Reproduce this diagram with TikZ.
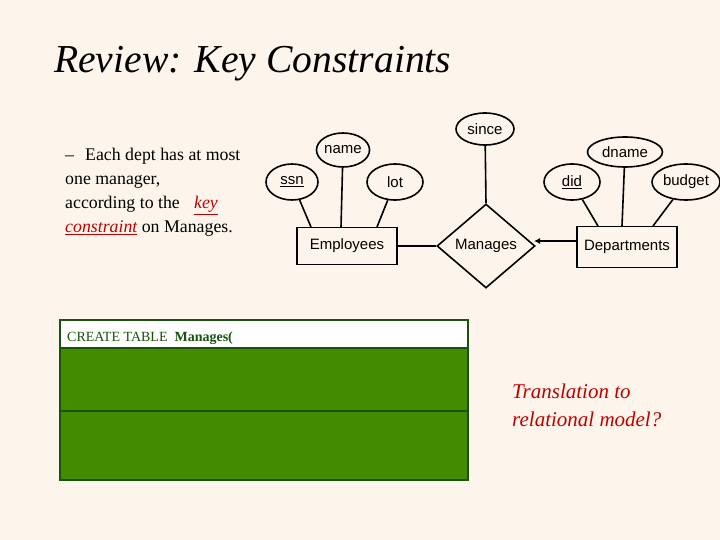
\documentclass[tikz,border=0pt]{standalone}
\usepackage{fontspec}
\setmainfont{Liberation Serif}
\setsansfont{Liberation Sans}
\usetikzlibrary{shapes.geometric,arrows.meta}
\definecolor{bg}{HTML}{FDF5EB}
\definecolor{sqlgreen}{HTML}{438C00}
\definecolor{sqldark}{HTML}{1A5010}
\definecolor{redtxt}{HTML}{C00000}
\begin{document}
\begin{tikzpicture}[x=1pt,y=-1pt,
  attr/.style={draw,ellipse,line width=1.6pt,inner sep=0pt,font=\sffamily\fontsize{15}{15}\selectfont},
  ent/.style={draw,rectangle,line width=1.6pt,font=\sffamily\fontsize{15}{15}\selectfont},
  rel/.style={draw,diamond,aspect=1.15,line width=1.6pt,inner sep=0pt,font=\sffamily\fontsize{15}{15}\selectfont},
  link/.style={line width=1.6pt},
  bullet/.style={anchor=base west,font=\fontsize{17.8}{17.8}\selectfont,inner sep=0pt}]
\fill[bg] (0,0) rectangle (720,540);
\useasboundingbox (0,0) rectangle (720,540);
\node[anchor=base west,inner sep=0pt,font=\itshape\fontsize{39.6}{39.6}\selectfont] (title) at (54,73) {Review: Key Constraints};
\node[bullet] (b0) at (65,161) {--};
\node[bullet] (b1) at (85,161) {Each dept has at most};
\node[bullet] (b2) at (65,185) {one manager,};
\node[bullet] (b3) at (65,209) {according to the\hspace{0.8em}\textcolor{redtxt}{\itshape\underline{key}}};
\node[bullet] (b4) at (65,233) {\textcolor{redtxt}{\itshape\underline{constraint}} on Manages.};
% ER
\node[attr,minimum width=58,minimum height=32] (since) at (485,129) {since};
\node[attr,minimum width=50,minimum height=34] (name) at (343,150) {name};
\node[attr,minimum width=52,minimum height=36] (ssn) at (292,182) {\underline{ssn}};
\node[attr,minimum width=56,minimum height=36] (lot) at (395,182) {lot};
\node[attr,minimum width=75,minimum height=30] (dname) at (625,152) {dname};
\node[attr,minimum width=56,minimum height=36] (did) at (572,182) {\underline{did}};
\node[attr,minimum width=68,minimum height=36] (budget) at (686,182) {budget};
\node[ent,minimum width=100,minimum height=37] (emp) at (347,246) {Employees};
\node[ent,minimum width=100,minimum height=41] (dep) at (627,247) {Departments};
\node[rel,minimum width=98,minimum height=84] (man) at (486,246) {Manages};
\draw[link] (ssn) -- (311,227);
\draw[link] (name) -- (341,227);
\draw[link] (lot) -- (377,227);
\draw[link] (since) -- (man.north);
\draw[link] (emp.east) -- (man.west);
\draw[link,-{Latex[length=6pt,width=6pt]}] (dep.west |- 0,241) -- (534,241);
\draw[link] (did) -- (598,226);
\draw[link] (dname) -- (622,226);
\draw[link] (budget) -- (653,226);
% SQL box
\draw[sqldark,line width=1.5pt,fill=white] (60,320) rectangle (468,348);
\draw[sqldark,line width=1.5pt,fill=sqlgreen] (60,348) rectangle (468,411);
\draw[sqldark,line width=1.5pt,fill=sqlgreen] (60,411) rectangle (468,480);
\node[anchor=base west,inner sep=0pt,font=\fontsize{14}{14}\selectfont,text=sqldark] (sql) at (67,341) {CREATE TABLE\hspace{0.5em}\textbf{Manages(}};
\node[anchor=base west,inner sep=0pt,align=left,text=redtxt,font=\itshape\fontsize{21}{28}\selectfont] (tr) at (512,426) {Translation to\\relational model?};
\end{tikzpicture}
\end{document}
